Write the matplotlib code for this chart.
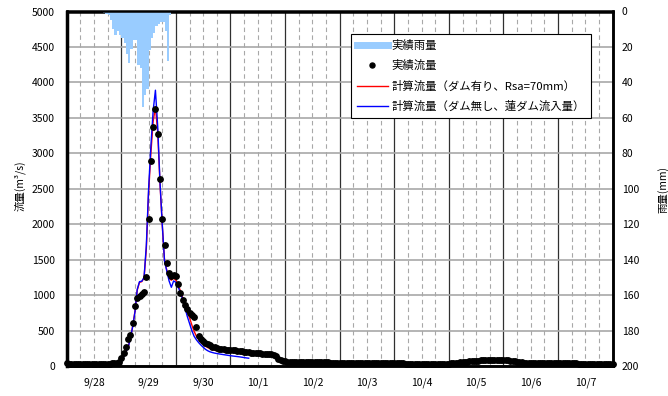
import numpy as np
import matplotlib
matplotlib.use("Agg")
import matplotlib.pyplot as plt
from matplotlib.lines import Line2D

plt.rcParams['font.family'] = ['Noto Sans CJK JP', 'DejaVu Sans']

# x axis is hours counted from 9/28 0:00
date_labels = ["9/28", "9/29", "9/30", "10/1", "10/2", "10/3", "10/4", "10/5", "10/6", "10/7"]

# hourly basin rainfall (mm), first bar starts at hour rain_start
rain_start = 16
rain = [1, 1.5, 2, 5, 10, 13, 11, 13, 15, 18,
        24, 29, 21, 16, 16, 30, 32, 54, 47, 44,
        22, 15, 12, 8, 7, 6, 6, 11, 28, 2]

# observed discharge (m3/s), hourly from hour 0
obs_flow = [36, 35, 35, 34, 34, 34, 33, 33, 33, 33, 32, 32,
            32, 32, 32, 32, 33, 33, 34, 35, 36, 38,
            42, 62, 110, 180, 275, 380, 440, 600, 850, 960, 990, 1020,
            1040, 1250, 2070, 2890, 3370, 3630, 3270, 2640, 2070, 1710,
            1450, 1310, 1275, 1285, 1275, 1150, 1030, 930, 860, 800,
            750, 720, 690, 555, 425,
            380, 350, 325, 305, 290, 275, 262, 252, 245, 240, 236, 232,
            228, 225, 222, 219, 216, 212, 208, 203, 198, 192, 188, 186,
            183, 180, 178, 176, 174, 172, 169, 165, 158, 135, 100, 80,
            70, 66, 63, 61, 59, 58, 57, 56,
            56, 55, 55, 54, 54, 53, 53, 52, 52, 51, 51, 50, 50, 49, 49, 48, 48,
            47, 47, 47, 46, 46, 46, 45, 45, 45, 44, 44, 44, 43, 43, 43,
            42, 42, 42, 41, 41, 41, 40, 40, 39, 39, 38,
            38, 37, 36, 35, 34, 33, 32, 31, 30, 29, 28, 27, 26, 25, 25,
            25, 26, 27, 28, 30, 31, 33, 35, 37,
            38, 42, 46, 50, 54, 58,
            61, 64, 67, 70, 73, 76, 79, 82, 84,
            85, 85, 84, 84, 83, 82, 81, 80, 79, 78, 77,
            75, 70, 62, 55, 52, 48, 45, 42, 40,
            38, 38, 38, 38, 38, 38, 37, 37, 37, 37, 37, 37, 37, 37, 36, 36,
            36, 36, 36, 36, 35, 35, 35, 35, 35, 35, 34, 34, 34, 34, 34, 34,
            33, 33, 33, 33]

# computed discharge with dam (Rsa=70mm), hourly from hour 0
calc_dam = [30, 30, 30, 30, 30, 30, 30, 30, 30, 30, 30, 30,
            30, 30, 30, 30, 30, 30, 30, 30, 30, 30, 30,
            42, 75, 130, 205, 265, 395, 560, 770, 1070, 1180, 1190,
            1240, 1650, 2450, 3000, 3450, 3650, 3300, 2580, 1990, 1490,
            1350, 1240, 1210, 1240, 1210, 1140, 1060, 960, 860, 770,
            680, 580, 490, 420, 375, 335, 305, 280, 260, 245, 230, 222,
            216, 211, 207, 204, 201, 198, 195, 192, 189, 186, 181, 178,
            175, 172, 169]

# computed discharge without dam (dam inflow), hourly from hour 0
calc_nodam = [30, 30, 30, 30, 30, 30, 30, 30, 30, 30, 30, 30,
              30, 30, 30, 30, 30, 30, 30, 30, 30, 30, 30,
              40, 70, 125, 200, 260, 390, 555, 760, 1080, 1190, 1195,
              1250, 1700, 2500, 3100, 3600, 3890, 3380, 2600, 2000, 1480,
              1340, 1200, 1110, 1200, 1180, 1110, 1040, 932, 820, 700,
              600, 500, 420, 370, 330, 295, 265, 235, 215, 200, 190, 182,
              176, 170, 165, 160, 155, 150, 145, 141, 137, 133, 129, 124,
              119, 114, 110]

fig = plt.figure(figsize=(6.68, 3.96), dpi=100)
ax = fig.add_axes([66.7 / 668, 30 / 396, 546 / 668, 354.5 / 396])

n_days = len(date_labels)
ax.set_xlim(0, 24 * n_days)
ax.set_ylim(0, 5000)
ax.set_yticks(np.arange(0, 5001, 500))

# day boundaries solid, 6-hour lines dashed, date labels at noon
ax.set_xticks(np.arange(0, 24 * n_days + 1, 24))
ax.set_xticklabels([])
ax.set_xticks(np.arange(12, 24 * n_days, 24), minor=True)
ax.set_xticklabels(date_labels, minor=True)
ax.grid(axis='x', which='major', color='#303030', lw=0.9, zorder=0)
ax.grid(axis='y', color='#a8a8a8', lw=1.2, zorder=0)
for h in np.arange(6, 24 * n_days, 6):
    if h % 24:
        ax.axvline(h, color='#a8a8a8', lw=0.8, ls=(0, (4, 3)), zorder=0)
ax.set_axisbelow(True)

ax.tick_params(axis='both', which='both', length=0, labelsize=7.5)
ax.tick_params(axis='y', pad=8.5)
ax.tick_params(axis='x', which='minor', pad=8)

calc_hours = np.arange(len(calc_dam))
ax.plot(calc_hours, calc_dam, color='red', lw=1.0, zorder=3)
ax.plot(calc_hours, calc_nodam, color='blue', lw=1.0, zorder=3)
obs_hours = np.arange(len(obs_flow))
ax.plot(obs_hours, obs_flow, ls='', marker='o', ms=3.9, color='black',
        zorder=4, clip_on=False)

ax.set_ylabel('流量(m³/s)', fontsize=7.5)
ax.yaxis.set_label_coords(-0.0745, 0.508)

# rainfall hanging from the top on an inverted right axis
ax2 = ax.twinx()
rain_hours = np.arange(rain_start, rain_start + len(rain))
ax2.bar(rain_hours, rain, width=1, align='edge', color='#99ccff', lw=0, zorder=2)
ax2.set_ylim(200, 0)
ax2.set_yticks(np.arange(0, 201, 20))
ax2.tick_params(axis='y', length=0, labelsize=7.5, pad=6.5)
ax2.set_ylabel('雨量(mm)', fontsize=7.5)
ax2.yaxis.set_label_coords(1.083, 0.499)

for a in (ax, ax2):
    for s in a.spines.values():
        s.set_color('black')
        s.set_linewidth(1.8)
ax.spines['left'].set_linewidth(2.5)

handles = [
    Line2D([], [], color='#99ccff', lw=5),
    Line2D([], [], ls='', marker='o', ms=3.6, color='black'),
    Line2D([], [], color='red', lw=1.0),
    Line2D([], [], color='blue', lw=1.0),
]
labels = ['実績雨量', '実績流量', '計算流量（ダム有り、Rsa=70mm）',
          '計算流量（ダム無し、蓮ダム流入量）']
leg = ax2.legend(handles, labels, loc='upper left', bbox_to_anchor=(0.521, 0.937),
                 borderaxespad=0, fontsize=8.2, frameon=True, fancybox=False,
                 framealpha=1, edgecolor='black', borderpad=0.5,
                 handlelength=2.7, handletextpad=0.35, labelspacing=0.82)
leg.get_frame().set_linewidth(0.8)
leg.set_zorder(10)

fig.savefig('out.png', dpi=100)
